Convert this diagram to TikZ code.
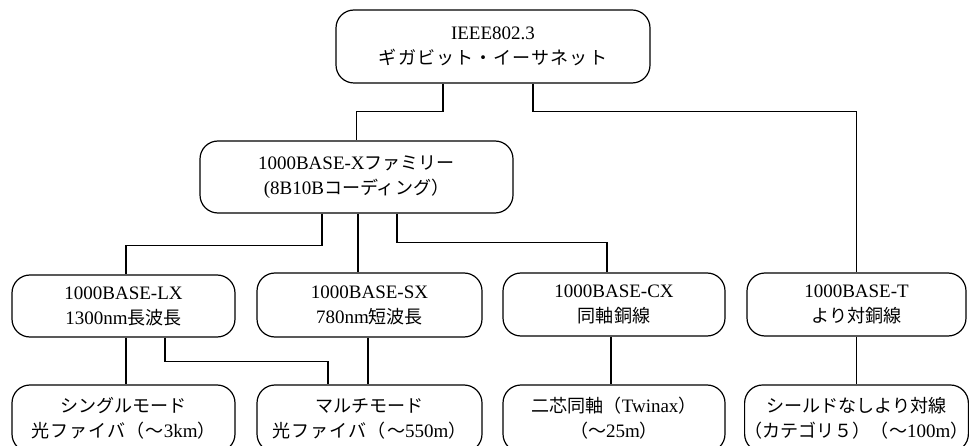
\documentclass[tikz,border=0pt]{standalone}
\usepackage{fontspec}
\setmainfont{Liberation Serif}
\newfontfamily\jpfont{Noto Sans CJK JP}[Scale=0.95]
\newfontfamily\jpsfont{Noto Sans CJK JP}[Scale=0.95,LetterSpace=6]
\newcommand{\JP}[1]{{\jpfont #1}}
\newcommand{\JS}[1]{{\jpsfont #1}}
\begin{document}
\begin{tikzpicture}[x=1pt,y=-1pt,
  box/.style={draw, rounded corners=18pt, align=center, inner sep=0pt,
    font=\fontsize{19}{25}\selectfont, line width=1.2pt},
  link/.style={line width=1.2pt}]
\clip (0,0) rectangle (969,446);
\fill[white] (0,0) rectangle (969,446);
% nodes
\node[box, minimum width=314pt, minimum height=73pt] (top) at (493,46.5)
  {IEEE802.3\\\JS{ギガビット・イーサネット}};
\node[box, minimum width=313pt, minimum height=72pt] (mid) at (356.5,177)
  {1000BASE-X\JP{ファミリー}\\(8B10B\JP{コーディング）}};
\node[box, minimum width=223pt, minimum height=62pt] (lx) at (123.5,306)
  {1000BASE-LX\\1300nm\JP{長波長}};
\node[box, minimum width=225pt, minimum height=64pt] (sx) at (369.5,305)
  {1000BASE-SX\\780nm\JP{短波長}};
\node[box, minimum width=222pt, minimum height=63pt] (cx) at (614,304.5)
  {1000BASE-CX\\\JP{同軸銅線}};
\node[box, minimum width=219pt, minimum height=63pt] (bt) at (856.5,304.5)
  {1000BASE-T\\\JP{より対銅線}};
\node[box, minimum width=223pt, minimum height=67pt] (sm) at (123.5,418.5)
  {\JP{シングルモード}\\\JS{光ファイバ（〜}3km\JP{）}};
\node[box, minimum width=225pt, minimum height=67pt] (mm) at (369.5,418.5)
  {\JP{マルチモード}\\\JS{光ファイバ（〜}550m\JP{）}};
\node[box, minimum width=222pt, minimum height=67pt] (tw) at (614,418.5)
  {\JP{二芯同軸（}Twinax\JP{）}\\\JP{（〜}25m\JP{）}};
\node[box, minimum width=219pt, minimum height=67pt] (sh) at (856.5,418.5)
  {\JP{シールドなしより対線}\\\JP{（カテゴリ５）（〜}100m\JP{）}};
% connectors
\draw[link] ([xshift=-50pt]top.south) -- ++(0,28) -| (mid.north);
\draw[link] ([xshift=40pt]top.south) -- ++(0,28) -| (bt.north);
\draw[link] ([xshift=-34.5pt]mid.south) -- ++(0,32) -| ([xshift=2.5pt]lx.north);
\draw[link] ([xshift=1.5pt]mid.south) -- ([xshift=1.5pt]mid.south |- sx.north);
\draw[link] ([xshift=40.5pt]mid.south) -- ++(0,29) -| ([xshift=-7pt]cx.north);
\draw[link] ([xshift=2.5pt]lx.south) -- ([xshift=2.5pt]lx.south |- sm.north);
\draw[link] ([xshift=41.5pt]lx.south) -- ++(0,24) -| ([xshift=-41.5pt]mm.north);
\draw[link] ([xshift=-1.5pt]sx.south) -- ([xshift=-1.5pt]sx.south |- mm.north);
\draw[link] ([xshift=-3pt]cx.south) -- ([xshift=-3pt]cx.south |- tw.north);
\draw[link] (bt.south) -- (bt.south |- sh.north);
\end{tikzpicture}
\end{document}
